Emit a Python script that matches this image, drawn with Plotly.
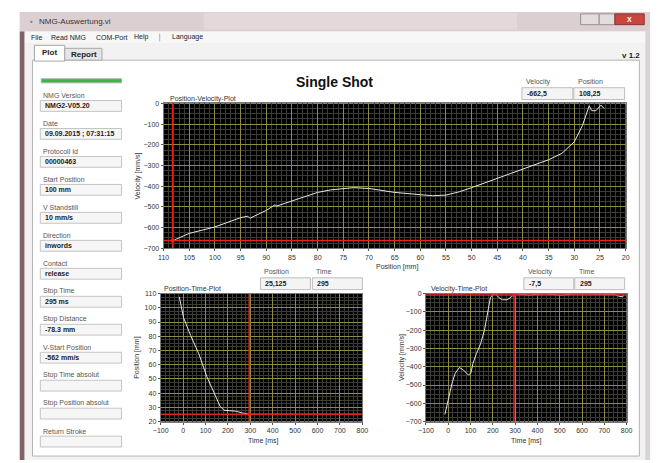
import plotly.graph_objects as go

W, H = 661, 463

# ---------------- data ----------------
pv_position = [107.9, 105.0, 100.0, 95.0, 93.6, 93.2, 90.0, 88.3, 88.0, 85.0, 80.0, 77.5, 75.0, 73.0,
               70.0, 67.9, 65.0, 60.0, 57.6, 55.0, 52.4, 50.0, 45.0, 40.0, 35.0, 32.4, 30.0, 28.4,
               27.1, 26.6, 25.8, 24.8, 24.2]
pv_velocity = [-660, -628, -597, -552, -545, -555, -517, -490, -496, -470, -430, -418, -411, -407,
               -411, -418, -430, -441, -446, -443, -427, -407, -362, -315, -272, -241, -185, -106,
               -11, -35, -35, -8, -24]

pt_time = [-17, 2, 34, 70, 106, 143, 165, 182, 208, 237, 259, 281, 300, 330, 360, 372, 450, 515, 530, 650, 800]
pt_position = [107.7, 93, 80.4, 67.7, 51.6, 37.7, 30.8, 28.0, 27.6, 27.3, 26.2, 25.7, 25.2, 25.1, 25.1,
               24.8, 24.8, 24.8, 25.1, 25.1, 25.1]

vt_time = [-15, -1, 17, 31, 50, 68, 90, 101, 111, 126, 145, 162, 177, 189, 199, 213, 228, 243, 264,
           282, 294, 308, 337, 367, 396, 439, 468, 498, 527, 556, 614, 687, 745, 775, 789]
vt_velocity = [-661, -580, -490, -436, -404, -418, -445, -436, -382, -329, -275, -203, -113, -23, -5, -2,
               -23, -34, -34, -20, -5, -2, -5, -9, -4, -2, -5, -9, -7, -2, -2, -2, -5, -18, -11]

# cursor readouts
cursor_pv = (108.25, -662.5)
cursor_pt = (295, 25.125)
cursor_vt = (295, -7.5)

field_labels = ["NMG Version", "Date", "Protocoll Id", "Start Position", "V Standstill", "Direction",
                "Contact", "Stop Time", "Stop Distance", "V-Start Position", "Stop Time absolut",
                "Stop Position absolut", "Return Stroke"]
field_values = ["NMG2-V05.20", "09.09.2015 ; 07:31:15", "00000463", "100 mm", "10 mm/s", "inwords",
                "release", "295 ms", "-78.3 mm", "-562 mm/s", "", "", ""]
menu_items = ["File", "Read NMG", "COM-Port", "Help", "Language"]

pv_xticks = list(range(110, 15, -5))
pv_yticks = list(range(0, -800, -100))
time_ticks = list(range(-100, 900, 100))
pt_yticks = list(range(20, 120, 10))
vt_yticks = list(range(0, -800, -100))


def fx(x):
    return x / W


def fy(y):
    return 1 - y / H


shapes = []
annotations = []


def rect(x0, y0, x1, y1, fill, line=None, lw=1, layer="below"):
    shapes.append(dict(type="rect", xref="paper", yref="paper", x0=fx(x0), x1=fx(x1), y0=fy(y1), y1=fy(y0),
                       fillcolor=fill, line=dict(color=line or fill, width=lw if line else 0), layer=layer))


def text(x, y, s, size=7, color="#444", bold=False, anchor="left", angle=0, family="Liberation Sans"):
    annotations.append(dict(xref="paper", yref="paper", x=fx(x), y=fy(y), text=("<b>%s</b>" % s) if bold else s,
                            showarrow=False, xanchor=anchor, yanchor="middle", textangle=angle,
                            font=dict(size=size, color=color, family=family)))


# ------------- window chrome -------------
rect(12, 8, 656, 463, "#eeeaea")                 # frame
rect(12, 8, 656, 28, "#dccfd1")                  # title bar
rect(200, 9, 520, 26, "#e4d8da")
rect(12, 28, 17, 463, "#7d6466")                 # left aero border
rect(651, 28, 656, 463, "#d8d4d4")
rect(17, 28, 651, 40, "#f7f7f8")                 # menu bar
rect(17, 40, 651, 463, "#f2f2f2")                # tab area
rect(25, 57, 645, 459, "#ffffff", "#b4b4b4")     # tab panel
rect(27, 42, 58, 58, "#ffffff", "#a8a8a8")       # Plot tab
rect(58, 45, 96, 57, "#e6e6e6", "#a8a8a8")       # Report tab
rect(585, 10, 604, 21, "#e2dcdc", "#9a9090")     # minimize
rect(604, 10, 620, 21, "#e2dcdc", "#9a9090")     # maximize
rect(620, 10, 650, 21, "#c9463c", "#8a3030")     # close
text(635, 15.5, "X", size=7, color="#ffffff", bold=True, anchor="center")
text(20, 18, "▪", size=7, color="#4a7ab0")
text(30, 18, "NMG-Auswertung.vi", size=8, color="#333")
menu_x = [21, 42, 88, 127, 166]
for mx, m in zip(menu_x, menu_items):
    text(mx, 34, m, size=7, color="#222")
shapes.append(dict(type="line", xref="paper", yref="paper", x0=fx(155), x1=fx(155), y0=fy(30), y1=fy(38),
                   line=dict(color="#b0b0b0", width=1)))
text(33, 49, "Plot", size=8, color="#222", bold=True)
text(62, 51, "Report", size=8, color="#222", bold=True)
text(648, 52, "v 1.2", size=8, color="#222", bold=True, anchor="right")

# status bar
rect(34, 76, 116, 80, "#39b54a", "#aaaaaa")

# left info fields
label_y0 = 93
step = 28.4
for i, (lab, val) in enumerate(zip(field_labels, field_values)):
    ly = label_y0 + i * step
    text(34, ly, lab, size=7, color="#555")
    rect(33, ly + 5, 116, ly + 16, "#f6f6f6", "#c4c4c4")
    if val:
        text(36, ly + 10.5, val, size=7, color="#222", bold=True)

# black plot backgrounds
rect(159, 101, 631, 248, "#000000")
rect(156, 294, 362, 424, "#000000")
rect(427, 294, 632, 424, "#000000")

# title
text(334, 79, "Single Shot", size=14, color="#111", bold=True, anchor="center")


def readout(x0, x1, y, label, value):
    text(x0 + 2, y - 12, label, size=7, color="#555")
    rect(x0, y - 6, x1, y + 6, "#f4f4f4", "#bdbdbd")
    text(x0 + 3, y, value, size=7, color="#222", bold=True)


readout(525, 577, 91, "Velocity", "-662,5")
readout(578, 630, 91, "Position", "108,25")
readout(258, 309, 284, "Position", "25,125")
readout(311, 362, 284, "Time", "295")
readout(527, 578, 284, "Velocity", "-7,5")
readout(579, 630, 284, "Time", "295")

# plot captions and axis titles
text(163, 96, "Position-Velocity-Plot", size=7, color="#333")
text(157, 289, "Position-Time-Plot", size=7, color="#333")
text(430, 289, "Velocity-Time-Plot", size=7, color="#333")
text(133, 175, "Velocity [mm/s]", size=7, color="#333", anchor="center", angle=-90)
text(397, 267, "Position [mm]", size=7, color="#333", anchor="center")
text(131, 359, "Position [mm]", size=7, color="#333", anchor="center", angle=-90)
text(261, 444, "Time [ms]", size=7, color="#333", anchor="center")
text(402, 359, "Velocity [mm/s]", size=7, color="#333", anchor="center", angle=-90)
text(530, 444, "Time [ms]", size=7, color="#333", anchor="center")

# ------------- traces -------------
fig = go.Figure()
RED = "#e8201c"
CURVE = "#e6e6e6"

fig.add_trace(go.Scatter(x=pv_position, y=pv_velocity, mode="lines", line=dict(color=CURVE, width=1),
                         xaxis="x", yaxis="y", hoverinfo="skip"))
fig.add_trace(go.Scatter(x=[cursor_pv[0], cursor_pv[0]], y=[0, -700], mode="lines",
                         line=dict(color=RED, width=1.5), xaxis="x", yaxis="y"))
fig.add_trace(go.Scatter(x=[110, 20], y=[cursor_pv[1], cursor_pv[1]], mode="lines",
                         line=dict(color=RED, width=1.5), xaxis="x", yaxis="y"))
fig.add_trace(go.Scatter(x=[cursor_pv[0]], y=[cursor_pv[1]], mode="markers",
                         marker=dict(color=RED, size=4), xaxis="x", yaxis="y"))

fig.add_trace(go.Scatter(x=pt_time, y=pt_position, mode="lines", line=dict(color=CURVE, width=1),
                         xaxis="x2", yaxis="y2"))
fig.add_trace(go.Scatter(x=[cursor_pt[0], cursor_pt[0]], y=[20, 110], mode="lines",
                         line=dict(color=RED, width=1.5), xaxis="x2", yaxis="y2"))
fig.add_trace(go.Scatter(x=[-100, 800], y=[cursor_pt[1], cursor_pt[1]], mode="lines",
                         line=dict(color=RED, width=1.5), xaxis="x2", yaxis="y2"))
fig.add_trace(go.Scatter(x=[cursor_pt[0]], y=[cursor_pt[1]], mode="markers",
                         marker=dict(color=RED, size=4), xaxis="x2", yaxis="y2"))

fig.add_trace(go.Scatter(x=vt_time, y=vt_velocity, mode="lines", line=dict(color=CURVE, width=1),
                         xaxis="x3", yaxis="y3"))
fig.add_trace(go.Scatter(x=[cursor_vt[0], cursor_vt[0]], y=[0, -700], mode="lines",
                         line=dict(color=RED, width=1.5), xaxis="x3", yaxis="y3"))
fig.add_trace(go.Scatter(x=[-100, 800], y=[cursor_vt[1], cursor_vt[1]], mode="lines",
                         line=dict(color=RED, width=1.5), xaxis="x3", yaxis="y3"))
fig.add_trace(go.Scatter(x=[cursor_vt[0]], y=[cursor_vt[1]], mode="markers",
                         marker=dict(color=RED, size=4), xaxis="x3", yaxis="y3"))

MAJOR = "#8c8c48"
MINOR = "#3c3c34"
tickfont = dict(size=7, color="#333", family="Liberation Sans")


def axis(domain, rng, tickvals, minor_dtick, anchor):
    return dict(domain=domain, range=rng, tickvals=tickvals, showgrid=True, gridcolor=MAJOR, gridwidth=1,
                minor=dict(dtick=minor_dtick, showgrid=True, gridcolor=MINOR, gridwidth=1),
                zeroline=False, showline=True, linecolor="#777", mirror=True, ticks="outside",
                ticklen=2, tickcolor="#555", tickfont=tickfont, anchor=anchor, fixedrange=True)


fig.update_layout(
    width=W, height=H, margin=dict(l=0, r=0, t=0, b=0), showlegend=False,
    paper_bgcolor="#ffffff", plot_bgcolor="#000000",
    xaxis=axis([fx(159), fx(631)], [110, 20], pv_xticks, 1, "y"),
    yaxis=axis([fy(248), fy(101)], [-700, 0], pv_yticks, 25, "x"),
    xaxis2=axis([fx(156), fx(362)], [-100, 800], time_ticks, 20, "y2"),
    yaxis2=axis([fy(424), fy(294)], [20, 110], pt_yticks, 2.5, "x2"),
    xaxis3=axis([fx(427), fx(632)], [-100, 800], time_ticks, 20, "y3"),
    yaxis3=axis([fy(424), fy(294)], [-700, 0], vt_yticks, 25, "x3"),
    shapes=shapes, annotations=annotations,
)

fig.write_html("out.html", config={"displayModeBar": False},
               post_script="document.body.style.margin='0';document.body.style.overflow='hidden';")
